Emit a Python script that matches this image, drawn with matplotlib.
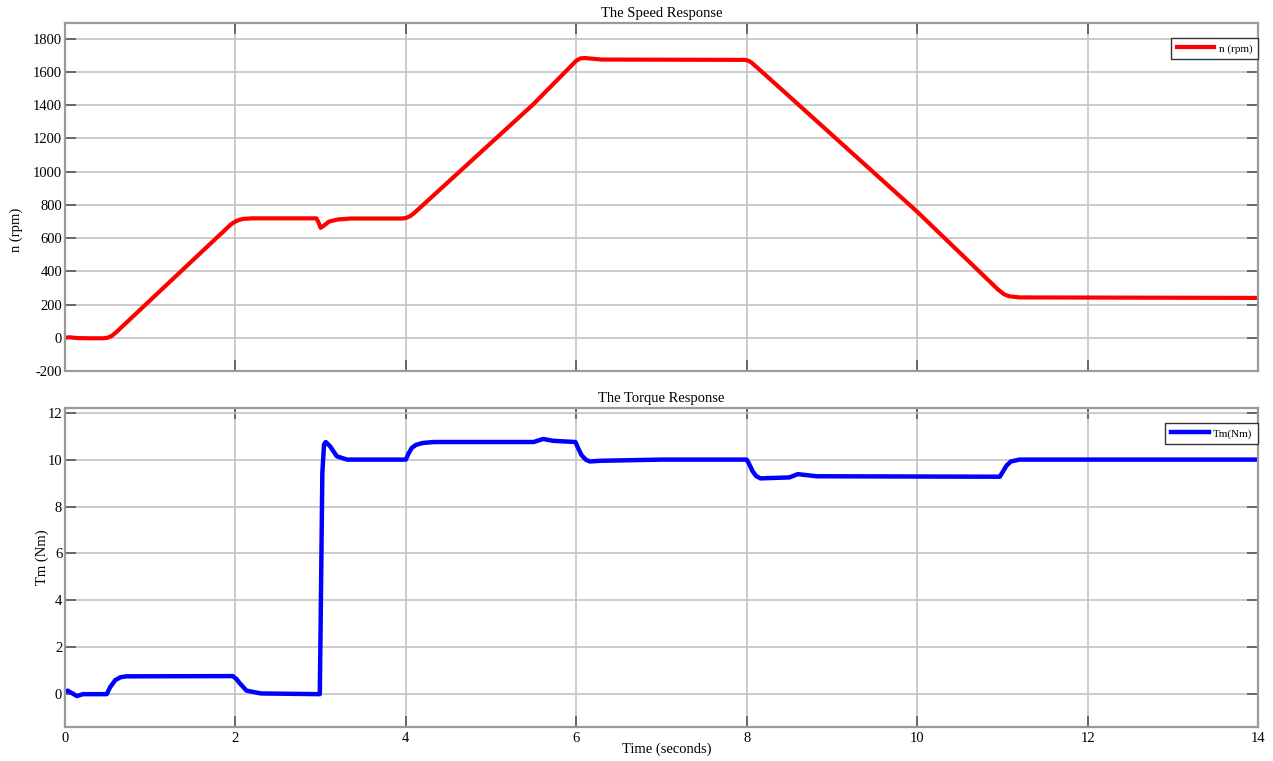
import matplotlib
matplotlib.use("Agg")
import matplotlib.pyplot as plt

# Speed response (rpm)
speed_t = [0.0, 0.05, 0.15, 0.3, 0.45, 0.5, 0.55, 0.6, 1.95, 2.0, 2.05, 2.1, 2.2,
           2.95, 2.97, 3.0, 3.05, 3.1, 3.2, 3.35, 3.95, 4.0, 4.05, 4.1, 5.49,
           6.0, 6.05, 6.1, 6.3, 7.98, 8.02, 8.06, 8.12, 8.55, 10.0, 10.95,
           11.02, 11.08, 11.2, 14.0]
speed_n = [0, 3, -2, -3, -3, 0, 12, 33, 684, 700, 711, 716, 719,
           719, 700, 662, 680, 700, 712, 718, 718, 721, 732, 752, 1403,
           1668, 1682, 1684, 1675, 1673, 1668, 1655, 1628, 1430, 759, 290,
           262, 250, 243, 240]

# Torque response (Nm)
torque_t = [0.0, 0.03, 0.14, 0.21, 0.49, 0.53, 0.59, 0.65, 0.72, 1.97, 2.01, 2.05,
            2.13, 2.3, 2.99, 3.0, 3.02, 3.04, 3.06, 3.11, 3.19, 3.31, 4.0, 4.03,
            4.07, 4.12, 4.2, 4.33, 5.5, 5.61, 5.73, 5.99, 6.02, 6.06, 6.11, 6.16,
            6.28, 7.0, 8.0, 8.03, 8.07, 8.11, 8.16, 8.5, 8.6, 8.82, 10.97, 11.0,
            11.05, 11.1, 11.2, 14.0]
torque_T = [0.1, 0.15, -0.08, 0.0, 0.0, 0.3, 0.6, 0.72, 0.76, 0.77, 0.65, 0.47,
            0.15, 0.03, 0.0, 3.0, 9.44, 10.65, 10.75, 10.57, 10.14, 10.0, 10.0, 10.25,
            10.5, 10.63, 10.71, 10.75, 10.75, 10.88, 10.8, 10.75, 10.5, 10.2, 10.0, 9.92,
            9.95, 10.0, 10.0, 9.8, 9.5, 9.3, 9.2, 9.24, 9.38, 9.29, 9.27, 9.45,
            9.75, 9.92, 10.0, 10.0]

x_ticks = [0, 2, 4, 6, 8, 10, 12, 14]
speed_ticks = [-200, 0, 200, 400, 600, 800, 1000, 1200, 1400, 1600, 1800]
torque_ticks = [0, 2, 4, 6, 8, 10, 12]

plt.rcParams['font.family'] = ['Liberation Serif', 'DejaVu Serif']
plt.rcParams['axes.unicode_minus'] = False

W, H = 1273, 761
fig = plt.figure(figsize=(W / 100, H / 100), dpi=100)


def axes_px(left, top, right, bottom):
    return fig.add_axes([left / W, 1 - bottom / H, (right - left) / W, (bottom - top) / H])


ax1 = axes_px(65, 23, 1258, 371)
ax2 = axes_px(65, 408, 1258, 727)


def style(ax):
    ax.set_xlim(0, 14)
    ax.set_xticks(x_ticks)
    ax.grid(True, color='#c4c4c4', linewidth=1.2)
    ax.set_axisbelow(True)
    for s in ax.spines.values():
        s.set_color('#9a9a9a')
        s.set_linewidth(1.6)
    ax.tick_params(direction='in', length=8, width=1.2, color='#555555',
                   top=True, right=True, labelsize=10.5, labelcolor='black')
    ax.tick_params(axis='y', pad=2)


ax1.plot(speed_t, speed_n, color='#ff0000', linewidth=3.0, label='n (rpm)',
         solid_joinstyle='round')
style(ax1)
ax1.set_ylim(-200, 1895)
ax1.set_yticks(speed_ticks)
ax1.tick_params(axis='x', labelbottom=False)
ax1.set_title('The Speed Response', fontsize=10.5, pad=4)
ax1.set_ylabel('n (rpm)', fontsize=10.5)
ax1.yaxis.set_label_coords(-0.0352, 0.405)
leg1 = ax1.legend(loc='upper right', bbox_to_anchor=(1.0, 1 - 15 / 348),
                  borderaxespad=0, fontsize=8, fancybox=False, framealpha=1,
                  edgecolor='#333333', handlelength=3.4, handletextpad=0.4,
                  borderpad=0.5)
leg1.get_frame().set_linewidth(1.0)

ax2.plot(torque_t, torque_T, color='#0000ff', linewidth=3.2, label='Tm(Nm)',
         solid_joinstyle='round')
style(ax2)
ax2.set_ylim(-1.4, 12.2)
ax2.set_yticks(torque_ticks)
ax2.set_title('The Torque Response', fontsize=10.5, pad=4)
ax2.set_ylabel('Tm (Nm)', fontsize=10.5)
ax2.yaxis.set_label_coords(-0.0134, 0.533)
leg2 = ax2.legend(loc='upper right', bbox_to_anchor=(1.0, 1 - 15 / 319),
                  borderaxespad=0, fontsize=8, fancybox=False, framealpha=1,
                  edgecolor='#333333', handlelength=3.4, handletextpad=0.4,
                  borderpad=0.5)
leg2.get_frame().set_linewidth(1.0)

fig.text(667 / W, 1 - 749 / H, 'Time (seconds)', ha='center', va='center', fontsize=10.5)

fig.savefig('out.png', dpi=100)
